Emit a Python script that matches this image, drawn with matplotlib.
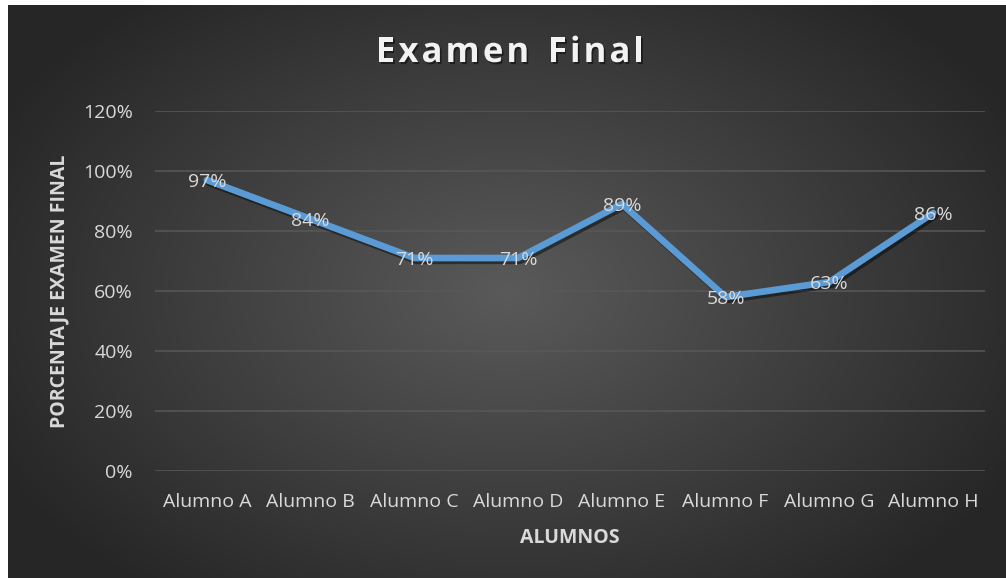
import numpy as np
import matplotlib
matplotlib.use("Agg")
import matplotlib.pyplot as plt
import matplotlib.patheffects as pe
from matplotlib.ticker import FuncFormatter

categories = ["Alumno A", "Alumno B", "Alumno C", "Alumno D",
              "Alumno E", "Alumno F", "Alumno G", "Alumno H"]
values = [0.97, 0.84, 0.71, 0.71, 0.89, 0.58, 0.63, 0.86]
yticks = [0, 0.2, 0.4, 0.6, 0.8, 1.0, 1.2]
title = "Examen Final"

W, H = 1006, 578
fig = plt.figure(figsize=(W / 100, H / 100), dpi=100)
fig.patch.set_facecolor("white")

# radial gradient background
bg = fig.add_axes([8 / W, 0, (W - 8) / W, (H - 5) / H])
bg.set_axis_off()
yy, xx = np.mgrid[0:300, 0:500]
cx, cy = 250, 150
d = np.sqrt(((xx - cx) / 290.0) ** 2 + ((yy - cy) / 200.0) ** 2)
d = np.clip(d, 0, 1)
inner = np.array([0x5a, 0x5a, 0x5a]) / 255
outer = np.array([0x26, 0x26, 0x26]) / 255
img = inner[None, None, :] * (1 - d[..., None]) + outer[None, None, :] * d[..., None]
bg.imshow(img, aspect="auto", extent=[0, 1, 0, 1])
bg.set_xlim(0, 1)
bg.set_ylim(0, 1)

font = "Open Sans"
tc = "#D9D9D9"
fs = 14

ax = fig.add_axes([155 / W, (H - 471) / H, 830 / W, 360 / H])
ax.set_facecolor("none")
x = np.arange(len(categories))
ax.plot(x, values, color="#5B9BD5", lw=4.8, solid_capstyle="round",
        solid_joinstyle="round",
        path_effects=[pe.SimpleLineShadow(offset=(1.5, -2), shadow_color="black", alpha=0.45),
                      pe.Normal()], zorder=3)
for xi, v in zip(x, values):
    ax.text(xi, v - 0.008, f"{round(v * 100):d}%", ha="center", va="center",
            color=tc, fontsize=fs, family=font, zorder=4)

ax.set_xlim(-0.5, len(categories) - 0.5)
ax.set_ylim(0, 1.2)
ax.set_yticks(yticks)
ax.yaxis.set_major_formatter(FuncFormatter(lambda v, p: f"{round(v * 100):d}%"))
ax.set_xticks(x)
ax.set_xticklabels(categories)
ax.grid(axis="y", color="#585858", lw=1.1, zorder=0)
ax.set_axisbelow(True)
for s in ax.spines.values():
    s.set_visible(False)
ax.tick_params(axis="both", length=0, colors=tc, labelsize=fs)
ax.tick_params(axis="y", pad=16)
ax.tick_params(axis="x", pad=16)
for lab in ax.get_xticklabels() + ax.get_yticklabels():
    lab.set_family(font)

ax.set_xlabel("ALUMNOS", color=tc, fontsize=fs, fontweight="bold",
              family=font, labelpad=12)
ax.set_ylabel("PORCENTAJE EXAMEN FINAL", color=tc, fontsize=fs,
              fontweight="bold", family=font, labelpad=10)

# title with letter spacing
renderer = fig.canvas.get_renderer()
tfs = 25
spacing = 3.0  # px between letters
widths = []
for ch in title:
    t = fig.text(0, 0, ch if ch != " " else "n", fontsize=tfs, fontweight="bold", family=font)
    bb = t.get_window_extent(renderer)
    widths.append(bb.width * (0.55 if ch == " " else 1.0))
    t.remove()
total = sum(widths) + spacing * (len(title) - 1)
xpos = 510 - total / 2
for ch, w in zip(title, widths):
    if ch != " ":
        fig.text(xpos / W, 1 - 53 / H, ch, ha="left", va="center",
                 color="#F2F2F2", fontsize=tfs, fontweight="bold", family=font,
                 path_effects=[pe.withSimplePatchShadow(offset=(1.2, -1.5),
                                                         shadow_rgbFace="black", alpha=0.45)])
    xpos += w + spacing

fig.savefig("out.png", dpi=100, facecolor=fig.get_facecolor())
